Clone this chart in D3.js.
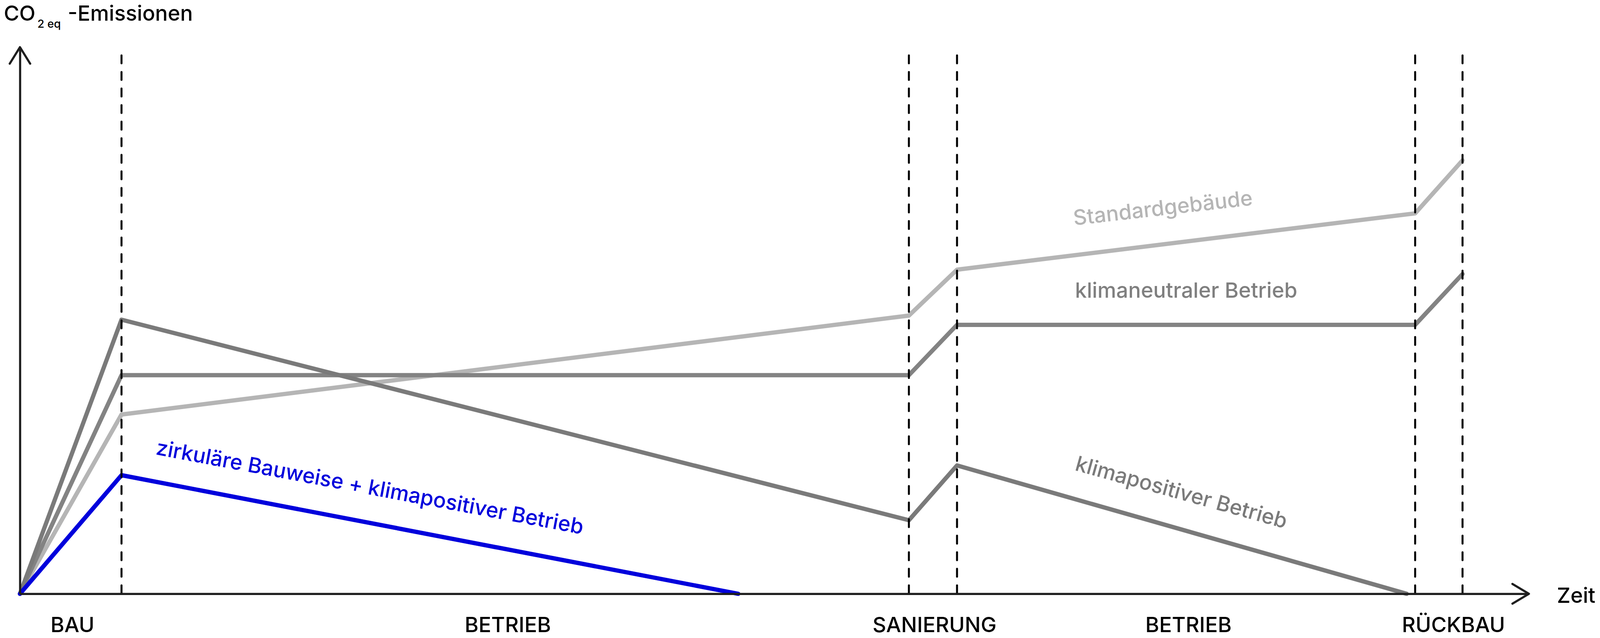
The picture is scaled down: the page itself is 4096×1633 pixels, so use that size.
<!DOCTYPE html>
<html><head><meta charset="utf-8">
<script src="https://cdn.jsdelivr.net/npm/d3@7"></script>
<style>html,body{margin:0;padding:0;background:#fff;overflow:hidden}svg{display:block}</style>
</head><body><svg id="chart"></svg>
<script>
// ---- data (time and emission in arbitrary units) ----
const timeDomain = [0, 100];
const emissionDomain = [0, 100];
const phaseBoundaries = [6.73, 58.91, 62.10, 92.46, 95.6];
const phaseLabels = ["BAU", "BETRIEB", "SANIERUNG", "BETRIEB", "RÜCKBAU"];
const phaseLabelTimes = [3.48, 32.33, 60.61, 77.44, 95.0];

const standardT = [0, 6.73, 58.91, 62.10, 92.46, 95.6];
const standardE = [0, 32.8, 50.9, 59.3, 69.6, 79.3];
const neutralT  = [0, 6.73, 58.91, 62.10, 92.46, 95.6];
const neutralE  = [0, 40.0, 40.0, 49.2, 49.2, 58.5];
const positiveT = [0, 6.73, 58.91, 62.10, 91.9];
const positiveE = [0, 50.15, 13.46, 23.48, 0];
const circularT = [0, 6.73, 47.6];
const circularE = [0, 21.7, 0];

const seriesNames = ["Standardgebäude", "klimaneutraler Betrieb", "klimapositiver Betrieb", "zirkuläre Bauweise + klimapositiver Betrieb"];
const labelT = [69.86, 69.92, 69.86, 8.96];
const labelE = [67.4, 54.19, 22.63, 25.5];
const labelAngle = [-6.5, 0, 15.5, 10.6];

// ---- layout (reference pixel space, scaled by viewBox) ----
const W = 4850, H = 1934;
const svg = d3.select("#chart")
  .attr("width", 4096).attr("height", 1633)
  .attr("viewBox", `0 0 ${W} ${H}`);

const x = d3.scaleLinear().domain(timeDomain).range([60, 4635]);
const y = d3.scaleLinear().domain(emissionDomain).range([1800, 143]);

const FONT = "Inter, 'Noto Sans', sans-serif";
const line = d3.line().x(d => x(d[0])).y(d => y(d[1]));

const series = [
  {t: standardT, e: standardE, color: "#b5b5b5"},
  {t: neutralT, e: neutralE, color: "#838383"},
  {t: positiveT, e: positiveE, color: "#7a7a7a"},
  {t: circularT, e: circularE, color: "#0000dc"}
];
const labelColors = ["#b5b5b5", "#7f7f7f", "#7a7a7a", "#0000dc"];

// series lines
svg.append("g").selectAll("path").data(series).join("path")
  .attr("d", s => line(s.t.map((t, i) => [t, s.e[i]])))
  .attr("fill", "none")
  .attr("stroke", s => s.color)
  .attr("stroke-width", 13)
  .attr("stroke-linejoin", "round")
  .attr("stroke-linecap", "round");

// dashed phase boundaries
svg.append("g").selectAll("line").data(phaseBoundaries).join("line")
  .attr("x1", d => x(d)).attr("x2", d => x(d))
  .attr("y1", 168).attr("y2", y(0))
  .attr("stroke", "#000")
  .attr("stroke-width", 6)
  .attr("stroke-linecap", "round")
  .attr("stroke-dasharray", "24,26.2");

// axes
svg.append("g").attr("transform", `translate(0,${y(0)})`)
  .call(d3.axisBottom(x).tickValues([]).tickSizeOuter(0));
svg.append("g").attr("transform", `translate(${x(0)},0)`)
  .call(d3.axisLeft(y).tickValues([]).tickSizeOuter(0));
svg.selectAll(".domain").attr("stroke", "#1e1e1e").attr("stroke-width", 6.5);

const axisEndX = x(timeDomain[1]), axisEndY = y(emissionDomain[1]);
svg.append("path")
  .attr("d", `M${axisEndX - 50},${y(0) - 30}L${axisEndX},${y(0)}L${axisEndX - 50},${y(0) + 30}`)
  .attr("fill", "none").attr("stroke", "#1e1e1e").attr("stroke-width", 6.5)
  .attr("stroke-linecap", "round").attr("stroke-linejoin", "round");
svg.append("path")
  .attr("d", `M${x(0) - 31},${axisEndY + 50}L${x(0)},${axisEndY}L${x(0) + 31},${axisEndY + 50}`)
  .attr("fill", "none").attr("stroke", "#1e1e1e").attr("stroke-width", 6.5)
  .attr("stroke-linecap", "round").attr("stroke-linejoin", "round");

// axis titles
const title = svg.append("g").attr("font-family", FONT).attr("font-weight", 500).attr("fill", "#000");
title.append("text").attr("x", 11).attr("y", 63).attr("font-size", 64).text("CO");
title.append("text").attr("x", 113).attr("y", 84).attr("font-size", 34).text("2 eq");
title.append("text").attr("x", 205).attr("y", 63).attr("font-size", 64).text("-Emissionen");

svg.append("text").attr("x", 4720).attr("y", 1828)
  .attr("font-family", FONT).attr("font-weight", 500).attr("font-size", 64)
  .text("Zeit");

// phase labels
svg.append("g").selectAll("text").data(phaseLabels).join("text")
  .attr("x", (d, i) => x(phaseLabelTimes[i]))
  .attr("y", 1916)
  .attr("text-anchor", "middle")
  .attr("font-family", FONT).attr("font-weight", 500).attr("font-size", 64)
  .text(d => d);

// series labels
svg.append("g").selectAll("text").data(seriesNames).join("text")
  .attr("transform", (d, i) => `translate(${x(labelT[i])},${y(labelE[i])}) rotate(${labelAngle[i]})`)
  .attr("font-family", FONT).attr("font-weight", 500).attr("font-size", 64)
  .attr("fill", (d, i) => labelColors[i])
  .text(d => d);
</script>
</body></html>
